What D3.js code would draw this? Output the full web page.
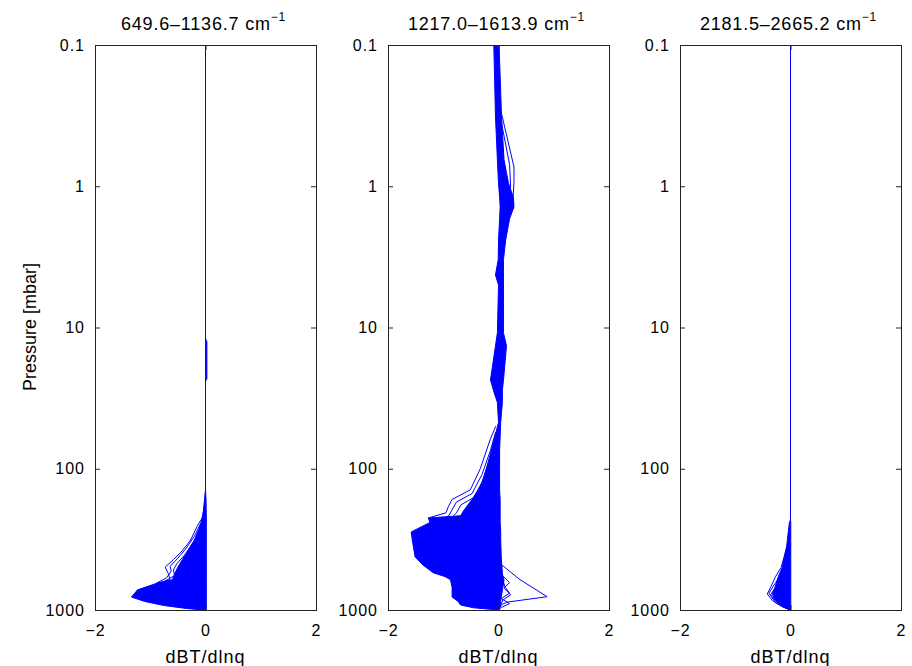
<!DOCTYPE html>
<html>
<head>
<meta charset="utf-8">
<script src="https://cdn.jsdelivr.net/npm/d3@7"></script>
<style>
body{margin:0;background:#fff;}
text{font-family:"Liberation Sans",Arial,sans-serif;fill:#000;}
</style>
</head>
<body>
<svg id="svg" width="912" height="666"></svg>
<script>
// panel titles and ticks
var titles=["649.6\u20131136.7 cm","1217.0\u20131613.9 cm","2181.5\u20132665.2 cm"];
var xTicks=[-2,0,2];
var yTicks=[0.1,1,10,100,1000];

// panel 1: envelope of the jacobians (left / right edge) on pressure levels
var p1Levels=[0.1,12,12.6,23,24,140,170,220,255,320,380,440,497,545,610,645,720,810,870,930,975,1000];
var p1Left=[0,0,0,0,0,0,-0.02,-0.04,-0.1,-0.2,-0.32,-0.42,-0.5,-0.55,-0.6,-0.87,-1.23,-1.34,-1.1,-0.75,-0.35,-0.05];
var p1Right=[0,0,0.025,0.025,0,0,0.01,0.015,0.015,0.015,0.015,0.015,0.015,0.015,0.015,0.015,0.015,0.015,0.015,0.015,0.015,0.01];
var p1LineA=[[150,0],[220,-0.05],[255,-0.15],[320,-0.27],[380,-0.42],[440,-0.58],[497,-0.73],[545,-0.68],[610,-0.64],[645,-0.87]];
var p1LineB=[[170,0],[240,-0.08],[300,-0.2],[370,-0.36],[430,-0.5],[490,-0.64],[530,-0.62],[590,-0.7],[650,-0.9]];
var p1LineC=[[190,0],[260,-0.08],[330,-0.22],[400,-0.36],[470,-0.52],[520,-0.58],[570,-0.56],[630,-0.75]];

// panel 2
var p2Levels=[0.1,0.32,0.65,0.95,1.2,1.4,1.7,2.4,3.3,4.25,5,10.9,13.5,23.5,28,34,47,74,100,120,141,165,186,215,223,240,280,320,420,480,545,580,610,690,810,870,920,965,1000];
var p2Left=[-0.085,-0.055,-0.02,0,0.02,0.03,0.02,0,-0.005,-0.055,0,-0.02,-0.055,-0.145,-0.09,-0.02,0,-0.13,-0.22,-0.28,-0.36,-0.48,-0.58,-0.68,-1.27,-1.24,-1.58,-1.56,-1.51,-1.37,-1.18,-0.97,-0.87,-0.84,-0.84,-0.73,-0.69,-0.45,0];
var p2Right=[0.01,0.055,0.1,0.18,0.27,0.28,0.2,0.13,0.09,0.09,0.09,0.09,0.145,0.09,0.07,0.07,0.04,0.02,0.02,0.02,0.02,0.03,0.03,0.03,0.03,0.03,0.04,0.04,0.05,0.06,0.07,0.08,0.1,0.08,0.05,0.04,0.03,0.02,0];
var p2LineTopA=[[0.3,0.05],[0.73,0.28],[0.95,0.28],[1.4,0.25],[2.2,0.1],[3.5,0.05]];
var p2LineTopB=[[0.35,0.05],[0.7,0.2],[1.0,0.22],[1.3,0.2],[2.0,0.08]];
var p2LineL1=[[50,-0.05],[62,-0.15],[100,-0.33],[141,-0.51],[165,-0.84],[186,-0.91],[205,-0.95],[223,-1.27],[240,-1.2]];
var p2LineL2=[[55,-0.05],[75,-0.15],[110,-0.3],[150,-0.48],[172,-0.76],[195,-0.84],[215,-0.9],[235,-1.1]];
var p2LineL3=[[60,-0.05],[90,-0.18],[125,-0.3],[160,-0.45],[180,-0.68],[205,-0.76],[225,-0.86],[250,-1.0]];
var p2LineL4=[[70,-0.05],[110,-0.2],[145,-0.33],[175,-0.5],[195,-0.62],[220,-0.7],[240,-0.8]];
var p2LineR1=[[480,0.06],[610,0.39],[805,0.88],[880,0.15],[920,0.05],[1000,0]];
var p2LineR2=[[560,0.05],[640,0.2],[700,0.1],[780,0.22],[850,0.08],[1000,0]];
var p2LineR3=[[600,0.07],[690,0.12],[760,0.2],[830,0.05],[900,0.2],[960,0.05],[1000,0]];

// panel 3
var p3Levels=[0.1,230,240,354,500,580,690,770,855,950,1000];
var p3Left=[0,0,-0.02,-0.07,-0.15,-0.22,-0.28,-0.33,-0.28,-0.13,-0.02];
var p3Right=[0,0,0.005,0.005,0.005,0.005,0.005,0.005,0.005,0.005,0];
var p3LineA=[[300,0],[400,-0.1],[500,-0.17],[580,-0.27],[690,-0.36],[770,-0.42],[855,-0.33],[950,-0.15],[1000,0]];
var p3LineB=[[350,0],[450,-0.1],[545,-0.16],[640,-0.27],[760,-0.39],[890,-0.27],[1000,0]];
var p3LineC=[[400,0],[500,-0.1],[600,-0.19],[700,-0.28],[780,-0.36],[880,-0.25],[1000,0]];

var panels=[
    {levels:p1Levels,left:p1Left,right:p1Right,lines:[p1LineA,p1LineB,p1LineC]},
    {levels:p2Levels,left:p2Left,right:p2Right,lines:[p2LineTopA,p2LineTopB,p2LineL1,p2LineL2,p2LineL3,p2LineL4,p2LineR1,p2LineR2,p2LineR3]},
    {levels:p3Levels,left:p3Left,right:p3Right,lines:[p3LineA,p3LineB,p3LineC]}
];

var svg=d3.select("#svg");
var panelLeft=[95,388,680];
var panelWidth=221;
var plotTop=45,plotBottom=610;
var tickLen=5;

var y=d3.scaleLog().domain([0.1,1000]).range([plotTop,plotBottom]);

panels.forEach(function(pan,k){
    var x=d3.scaleLinear().domain([-2,2]).range([panelLeft[k],panelLeft[k]+panelWidth]);
    var g=svg.append("g");

    g.append("clipPath").attr("id","clip"+k)
      .append("rect")
        .attr("x",x(-2)).attr("y",plotTop)
        .attr("width",panelWidth).attr("height",plotBottom-plotTop);

    var plot=g.append("g").attr("clip-path","url(#clip"+k+")");

    //envelope of all profiles
    var area=d3.area()
        .x0((d,i)=>x(pan.left[i]))
        .x1((d,i)=>x(pan.right[i]))
        .y(d=>y(d));
    plot.append("path")
        .datum(pan.levels)
        .attr("d",area)
        .style("fill","#0000ff")
        .style("stroke","#0000ff")
        .style("stroke-width","1");

    //single profiles at the edges
    var line=d3.line()
        .x(d=>x(d[1]))
        .y(d=>y(d[0]));
    plot.selectAll("path.prof")
        .data(pan.lines)
        .enter().append("path")
            .attr("class","prof")
            .attr("d",line)
            .style("fill","none")
            .style("stroke","#0000ff")
            .style("stroke-width","1");

    //box + inward ticks
    var yAxisL=d3.axisLeft(y).tickValues(yTicks).tickSize(-tickLen).tickPadding(10).tickFormat(d3.format("~g"));
    var yAxisR=d3.axisRight(y).tickValues(yTicks).tickSize(-tickLen).tickFormat("");
    var xAxisB=d3.axisBottom(x).tickValues(xTicks).tickSize(-tickLen).tickPadding(15).tickFormat(d=>d<0?"\u2212"+(-d):d);
    var xAxisT=d3.axisTop(x).tickValues(xTicks).tickSize(-tickLen).tickFormat("");

    g.append("g").attr("transform","translate("+x(-2)+",0)").call(yAxisL);
    g.append("g").attr("transform","translate("+x(2)+",0)").call(yAxisR);
    g.append("g").attr("transform","translate(0,"+plotBottom+")").call(xAxisB);
    g.append("g").attr("transform","translate(0,"+plotTop+")").call(xAxisT);

    g.selectAll(".domain").style("stroke","#222").style("shape-rendering","crispEdges");
    g.selectAll(".tick line").style("stroke","#222");
    g.selectAll(".tick text")
        .style("font-size","16px")
        .style("letter-spacing","1px")
        .style("font-family","'Liberation Sans',Arial,sans-serif");

    //title with superscript
    var t=g.append("text")
        .attr("x",x(0)-2)
        .attr("y",30)
        .attr("text-anchor","middle")
        .style("font-size","18px")
        .style("letter-spacing","0.8px")
        .text(titles[k]);
    t.append("tspan").attr("dy","-9").style("font-size","12px").text("\u22121");

    g.append("text")
        .attr("x",x(0))
        .attr("y",663)
        .attr("text-anchor","middle")
        .style("font-size","18px")
        .style("letter-spacing","1px")
        .text("dBT/dlnq");
});

svg.append("text")
    .attr("transform","translate(36,327) rotate(-90)")
    .attr("text-anchor","middle")
    .style("font-size","18px")
    .text("Pressure [mbar]");
</script>
</body>
</html>
